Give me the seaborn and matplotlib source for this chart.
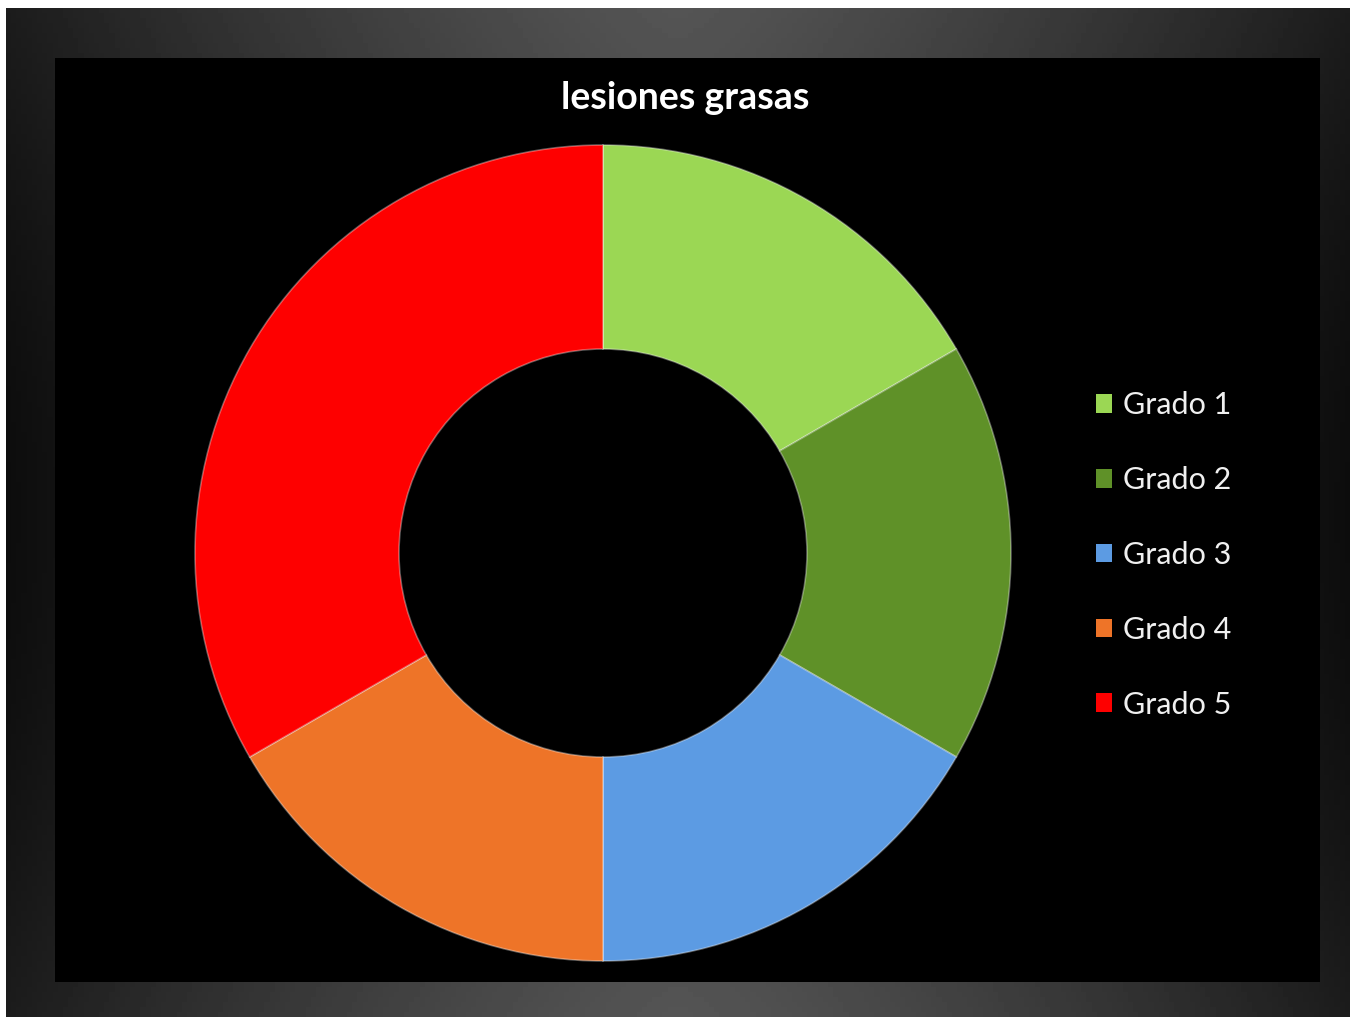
import numpy as np
import matplotlib.pyplot as plt
import seaborn as sns
from matplotlib.patches import Rectangle

# data (Grado 1-4 each about 1/6, Grado 5 about 1/3)
grados = ["Grado 1", "Grado 2", "Grado 3", "Grado 4", "Grado 5"]
valores = [1, 1, 1, 1, 2]
colores = ["#9bd754", "#5f9128", "#5c9be3", "#ee7428", "#fe0000"]
titulo = "lesiones grasas"

sns.set_style("dark")
plt.rcParams['font.family'] = ['Lato', 'DejaVu Sans']

W, H = 1354, 1017
fig = plt.figure(figsize=(W / 100, H / 100), dpi=100, facecolor="white")

# background in pixel coordinates (y down): gray frame + black plot area
bg = fig.add_axes([0, 0, 1, 1])
yy, xx = np.mgrid[0:1:200j, 0:1:260j]
grad = 0.33 - 0.22 * np.abs(2 * xx - 1) ** 1.3 - 0.06 * np.sin(np.pi * yy)
bg.imshow(grad, cmap="gray", vmin=0, vmax=1, aspect="auto",
          extent=[6, 1350, H, 8], origin="upper")
bg.add_patch(Rectangle((55, 58), 1320 - 55, 982 - 58,
                       facecolor="black", edgecolor="none"))
bg.set_xlim(0, W)
bg.set_ylim(H, 0)
bg.axis("off")

# donut
cx, cy, r = 603, 553, 408
ax = fig.add_axes([(cx - r) / W, (H - cy - r) / H, 2 * r / W, 2 * r / H])
wedges, _ = ax.pie(valores, colors=colores, startangle=90, counterclock=False,
                   wedgeprops=dict(width=0.5, edgecolor=(1, 1, 1, 0.35), linewidth=1.2))
ax.set_xlim(-1, 1)
ax.set_ylim(-1, 1)
ax.set_aspect("equal")
ax.set_facecolor("none")

fig.text(685 / W, 1 - 98 / H, titulo, color="white", fontsize=27,
         fontweight="bold", ha="center", va="center")

leg = fig.legend(wedges, grados, loc="upper left",
                 bbox_to_anchor=(1068 / W, 1 - 364 / H),
                 frameon=False, fontsize=22, labelcolor="#f0f0f0",
                 handlelength=0.55, handleheight=0.55, handletextpad=0.35,
                 labelspacing=1.53)
for h in leg.legend_handles:
    h.set_edgecolor("none")

fig.savefig("out.png", dpi=100, facecolor="white")
